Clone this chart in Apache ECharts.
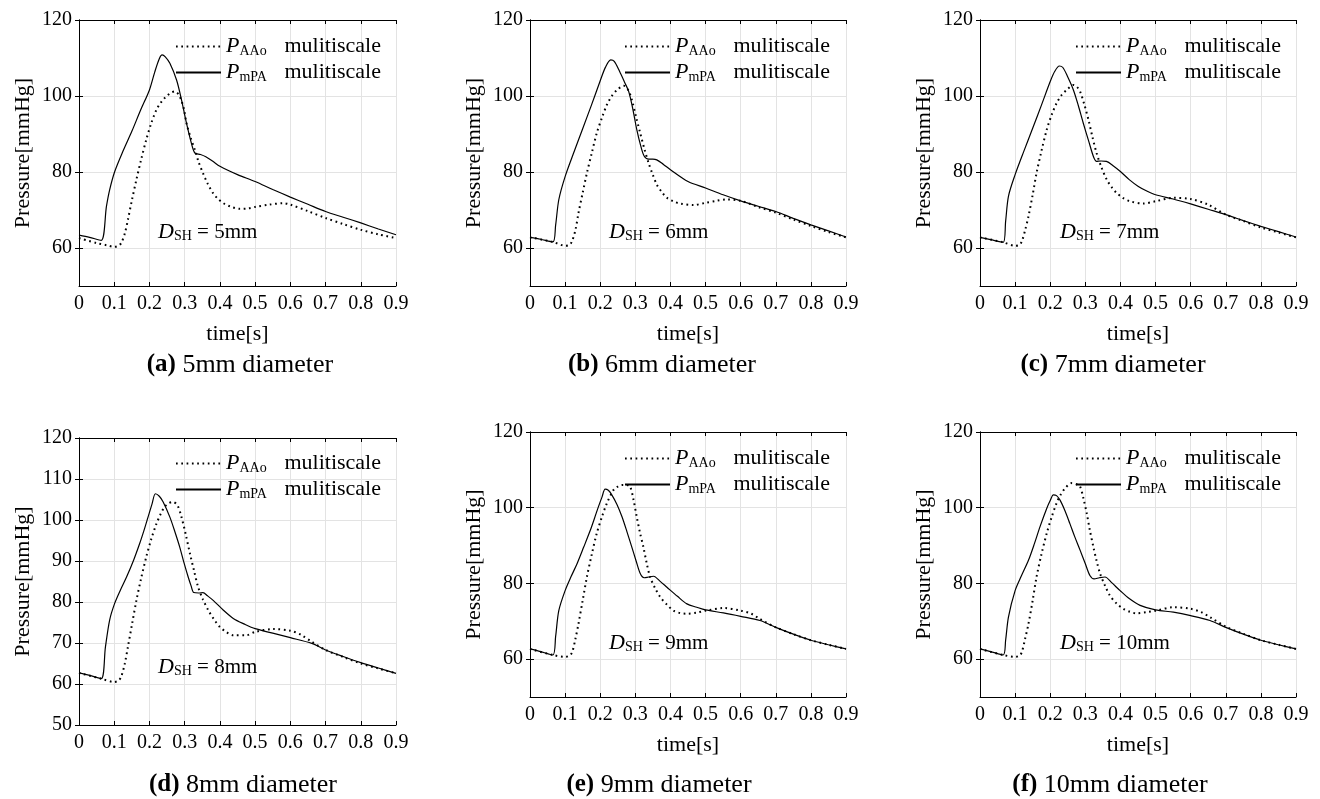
<!DOCTYPE html>
<html><head><meta charset="utf-8">
<script src="https://cdn.jsdelivr.net/npm/echarts@6/dist/echarts.min.js"></script>
<style>html,body{margin:0;padding:0;background:#fff}#c{width:1320px;height:799px}</style>
</head><body><div id="c"></div><script>
// ---------- data: [time s, pressure mmHg] ----------
const mpa5 = [[0,63.4],[0.03,62.8],[0.063,62.0],[0.078,71],[0.087,75.3],[0.101,80],[0.125,85.5],[0.15,90.7],[0.175,96.3],[0.2,101.6],[0.215,106.3],[0.228,109.8],[0.236,110.8],[0.245,110.3],[0.258,108.6],[0.277,104.2],[0.291,99],[0.305,92.9],[0.319,87.6],[0.329,85.0],[0.345,84.6],[0.36,84.0],[0.38,82.8],[0.4,81.5],[0.45,79.3],[0.5,77.5],[0.55,75.4],[0.6,73.4],[0.65,71.5],[0.7,69.6],[0.75,68.1],[0.8,66.6],[0.85,65.0],[0.9,63.5]];
const aao5 = [[0,62.6],[0.05,61.3],[0.08,60.7],[0.1,60.3],[0.112,60.6],[0.12,61.3],[0.13,63.8],[0.139,67.5],[0.15,72.5],[0.163,78],[0.177,83.5],[0.191,88.5],[0.205,92.8],[0.22,96.4],[0.235,98.6],[0.248,99.9],[0.262,100.9],[0.272,101.2],[0.282,100.5],[0.29,99],[0.298,96.5],[0.305,92.9],[0.317,89],[0.329,85.8],[0.34,82.5],[0.352,79.7],[0.365,77],[0.38,74.5],[0.395,72.9],[0.41,71.8],[0.43,70.9],[0.457,70.3],[0.48,70.4],[0.5,70.8],[0.54,71.4],[0.58,71.8],[0.6,71.4],[0.65,69.7],[0.7,67.9],[0.75,66.3],[0.8,64.8],[0.85,63.6],[0.9,62.6]];
const mpa6 = [[0,62.8],[0.03,62.3],[0.065,61.6],[0.073,66],[0.082,72.7],[0.1,78.8],[0.125,85.2],[0.15,91.4],[0.175,97.6],[0.2,104],[0.215,107.6],[0.23,109.5],[0.24,109.1],[0.255,106.5],[0.27,103.5],[0.281,101.2],[0.293,96.5],[0.304,91.2],[0.315,87],[0.325,84.2],[0.338,83.4],[0.35,83.4],[0.361,83.2],[0.38,82],[0.4,80.6],[0.45,77.5],[0.5,75.8],[0.55,74],[0.6,72.4],[0.65,71],[0.7,69.6],[0.75,67.8],[0.8,66.1],[0.85,64.5],[0.9,62.9]];
const aao6 = [[0,62.8],[0.065,61.6],[0.1,60.6],[0.112,60.8],[0.12,61.8],[0.13,65],[0.138,69.2],[0.15,74.5],[0.162,79.7],[0.176,85],[0.19,90.2],[0.205,94.3],[0.219,97.7],[0.233,100],[0.248,101.6],[0.267,102.7],[0.28,101.5],[0.29,99],[0.302,94.5],[0.314,90.2],[0.326,86],[0.338,82.3],[0.35,79.2],[0.361,76.7],[0.375,74.8],[0.39,73.2],[0.41,72.2],[0.428,71.7],[0.466,71.3],[0.5,71.9],[0.53,72.4],[0.56,72.8],[0.6,72.4],[0.65,70.8],[0.7,69.3],[0.75,67.5],[0.8,65.8],[0.85,64.2],[0.9,62.8]];
const mpa7 = [[0,62.8],[0.03,62.2],[0.066,61.5],[0.073,67],[0.081,73.6],[0.1,79.3],[0.125,85.5],[0.15,91.5],[0.175,97.6],[0.2,103.8],[0.213,106.5],[0.226,107.9],[0.236,107.5],[0.25,105],[0.266,101.6],[0.28,97.5],[0.294,92.9],[0.31,88],[0.323,84.1],[0.332,82.8],[0.345,82.9],[0.36,82.8],[0.38,81.6],[0.399,80.2],[0.425,78],[0.451,76.2],[0.475,75],[0.5,74],[0.55,72.9],[0.6,71.6],[0.65,70.2],[0.7,68.8],[0.75,67.2],[0.8,65.7],[0.85,64.3],[0.9,62.9]];
const aao7 = [[0,62.8],[0.066,61.5],[0.1,60.6],[0.112,60.8],[0.119,61.7],[0.128,64.5],[0.138,68.3],[0.15,74],[0.161,79.7],[0.175,85.5],[0.19,91.1],[0.204,95],[0.218,98.1],[0.232,100.2],[0.247,101.6],[0.266,102.9],[0.276,102.4],[0.285,101.2],[0.297,97.8],[0.309,93.7],[0.32,89.3],[0.332,85],[0.346,81.2],[0.361,78],[0.375,76],[0.389,74.5],[0.408,73.1],[0.427,72.3],[0.465,71.7],[0.5,72.3],[0.55,73.2],[0.6,72.9],[0.65,71.4],[0.7,68.8],[0.75,67.1],[0.8,65.4],[0.85,64.1],[0.9,62.8]];
const mpa8 = [[0,62.7],[0.03,62.1],[0.063,61.3],[0.075,69],[0.087,75.6],[0.101,79.6],[0.118,83],[0.135,86.1],[0.155,90.2],[0.172,94.2],[0.185,97.6],[0.196,100.7],[0.207,103.8],[0.217,106.4],[0.228,105.8],[0.239,104.4],[0.258,100.7],[0.272,97.2],[0.286,93.4],[0.298,89.6],[0.31,86.1],[0.318,84],[0.326,82.3],[0.34,82.2],[0.352,82.3],[0.365,81.5],[0.381,80.4],[0.41,78],[0.438,76],[0.47,74.6],[0.5,73.5],[0.55,72.4],[0.6,71.3],[0.661,69.9],[0.7,68.3],[0.75,66.7],[0.8,65.2],[0.85,63.9],[0.9,62.6]];
const aao8 = [[0,62.7],[0.063,61.3],[0.1,60.5],[0.112,60.8],[0.12,61.8],[0.13,65],[0.139,69.1],[0.151,74.8],[0.163,80.4],[0.177,86],[0.191,91],[0.205,95.3],[0.22,99.1],[0.232,101.5],[0.243,103.2],[0.255,104.1],[0.267,104.4],[0.28,103.5],[0.291,100.7],[0.303,96.5],[0.315,91.8],[0.327,87.5],[0.338,83.7],[0.352,80.6],[0.367,78],[0.383,75.8],[0.4,73.9],[0.418,72.7],[0.438,71.9],[0.476,71.9],[0.5,72.7],[0.551,73.4],[0.6,73],[0.63,72],[0.661,70.3],[0.7,68.3],[0.75,66.6],[0.8,65],[0.85,63.8],[0.9,62.6]];
const mpa9 = [[0,62.7],[0.03,62],[0.065,61.1],[0.073,66],[0.082,72.8],[0.1,78.1],[0.117,81.8],[0.134,85.2],[0.153,89.6],[0.172,94.1],[0.184,97.3],[0.195,100.3],[0.205,102.8],[0.214,104.9],[0.223,104.6],[0.233,103.4],[0.248,100.8],[0.262,97.6],[0.276,93.7],[0.29,89.6],[0.302,86],[0.314,82.6],[0.325,81.5],[0.338,81.7],[0.352,81.9],[0.37,80.6],[0.39,79],[0.42,76.6],[0.447,74.6],[0.475,73.7],[0.5,73],[0.551,72.2],[0.6,71.3],[0.655,70.2],[0.7,68.4],[0.75,66.6],[0.8,65],[0.85,63.8],[0.9,62.7]];
const aao9 = [[0,62.7],[0.065,61.1],[0.1,60.6],[0.112,60.9],[0.12,61.8],[0.129,65.2],[0.138,69.3],[0.15,75.5],[0.162,81.7],[0.176,87.7],[0.19,93.2],[0.205,97.6],[0.219,101.2],[0.238,104.7],[0.25,105.6],[0.262,106],[0.274,106],[0.285,105.6],[0.295,102],[0.304,97.6],[0.313,93.5],[0.323,89.6],[0.332,85.5],[0.342,81.7],[0.356,78.8],[0.371,76.4],[0.39,74.4],[0.409,72.8],[0.427,72.2],[0.447,72],[0.475,72.3],[0.5,72.8],[0.551,73.5],[0.6,72.8],[0.63,72],[0.655,70.6],[0.7,68.4],[0.75,66.6],[0.8,65],[0.85,63.8],[0.9,62.7]];
const mpa10 = [[0,62.7],[0.03,62],[0.066,61.1],[0.073,65],[0.081,71.1],[0.1,78.1],[0.118,82],[0.138,86.1],[0.155,90.5],[0.171,95],[0.19,99.8],[0.2,101.9],[0.209,103.4],[0.218,103.2],[0.228,102],[0.242,99.2],[0.256,95.8],[0.27,92.3],[0.285,88.8],[0.3,85.2],[0.313,82.1],[0.325,81.2],[0.34,81.5],[0.356,81.7],[0.375,80.2],[0.399,78.1],[0.425,76],[0.456,74.2],[0.5,73],[0.551,72.4],[0.6,71.5],[0.655,70.2],[0.7,68.4],[0.75,66.6],[0.8,65],[0.85,63.8],[0.9,62.7]];
const aao10 = [[0,62.7],[0.066,61.1],[0.1,60.6],[0.112,60.9],[0.119,61.8],[0.128,65.2],[0.138,69.3],[0.15,75.5],[0.161,81.7],[0.175,87.7],[0.19,93.2],[0.204,97.5],[0.218,101.2],[0.23,103.5],[0.242,105.1],[0.261,106.5],[0.275,106.2],[0.285,105.6],[0.295,102.3],[0.304,98.5],[0.313,94],[0.323,89.6],[0.332,86],[0.342,82.6],[0.356,79.4],[0.37,76.8],[0.39,74.6],[0.408,73.3],[0.427,72.5],[0.446,72.1],[0.475,72.4],[0.5,72.8],[0.551,73.7],[0.6,73.3],[0.63,72.4],[0.655,71.1],[0.7,68.6],[0.75,66.7],[0.8,65],[0.85,63.8],[0.9,62.7]];

const letters = ['(a)','(b)','(c)','(d)','(e)','(f)'];
const diameters = ['5mm','6mm','7mm','8mm','9mm','10mm'];
const captionText = ['5mm diameter','6mm diameter','7mm diameter','8mm diameter','9mm diameter','10mm diameter'];
const yTicksSparse = [60, 80, 100, 120];
const yTicksDense = [50, 60, 70, 80, 90, 100, 110, 120];
const mpaSets = [mpa5, mpa6, mpa7, mpa8, mpa9, mpa10];
const aaoSets = [aao5, aao6, aao7, aao8, aao9, aao10];
const legendSub = ['AAo', 'mPA'];
const legendWord = 'mulitiscale';
const yName = 'Pressure[mmHg]';
const xName = 'time[s]';

// ---------- layout (pixels) ----------
const panels = [
  {l:79,  t:20,  w:317, h:266, dense:false, xname:true,  legL:175,  legT:35,  annX:158,  annY:232, capX:240,  capY:365},
  {l:530, t:20,  w:316, h:266, dense:false, xname:true,  legL:624,  legT:35,  annX:609,  annY:232, capX:662,  capY:365},
  {l:980, t:20,  w:316, h:266, dense:false, xname:true,  legL:1075, legT:35,  annX:1060, annY:232, capX:1113, capY:365},
  {l:79,  t:438, w:317, h:287, dense:true,  xname:false, legL:175,  legT:452, annX:158,  annY:667, capX:243,  capY:785},
  {l:530, t:432, w:316, h:265, dense:false, xname:true,  legL:624,  legT:447, annX:609,  annY:643, capX:659,  capY:785},
  {l:980, t:432, w:316, h:265, dense:false, xname:true,  legL:1075, legT:447, annX:1060, annY:643, capX:1110, capY:785}
];

const FONT = 'Liberation Serif';
const GRID_C = '#e3e3e3';

const grid = [], xAxis = [], yAxis = [], series = [], legend = [], graphic = [];

panels.forEach((p, i) => {
  grid.push({left: p.l, top: p.t, width: p.w, height: p.h, containLabel: false});
  const ticks = p.dense ? yTicksDense : yTicksSparse;
  xAxis.push({
    type: 'value', gridIndex: i, min: 0, max: 0.9, interval: 0.1, position: 'bottom',
    name: p.xname ? xName : '', nameLocation: 'middle', nameGap: 37,
    nameTextStyle: {fontFamily: FONT, fontSize: 22, color: '#000'},
    axisLine: {show: true, lineStyle: {color: '#000', width: 1}},
    axisTick: {show: true, inside: true, length: 4, lineStyle: {color: '#000'}},
    axisLabel: {fontFamily: FONT, fontSize: 20, color: '#000', margin: 8,
      formatter: v => (Math.abs(v) < 1e-9 ? '0' : v.toFixed(1))},
    splitLine: {show: true, lineStyle: {color: GRID_C, width: 1}}
  });
  xAxis.push({
    type: 'value', gridIndex: i, min: 0, max: 0.9, interval: 0.1, position: 'top',
    axisLine: {show: true, lineStyle: {color: '#000', width: 1}},
    axisTick: {show: true, inside: true, length: 4, lineStyle: {color: '#000'}},
    axisLabel: {show: false}, splitLine: {show: false}
  });
  yAxis.push({
    type: 'value', gridIndex: i, min: 50, max: 120, position: 'left',
    name: yName, nameLocation: 'middle', nameGap: 45,
    nameTextStyle: {fontFamily: FONT, fontSize: 22, color: '#000'},
    axisLine: {show: true, lineStyle: {color: '#000', width: 1}},
    axisTick: {show: true, inside: true, length: 4, lineStyle: {color: '#000'}, customValues: ticks},
    axisLabel: {fontFamily: FONT, fontSize: 20, color: '#000', margin: 7, customValues: ticks},
    splitLine: {show: true, lineStyle: {color: GRID_C, width: 1}}
  });
  yAxis.push({
    type: 'value', gridIndex: i, min: 50, max: 120, position: 'right',
    axisLine: {show: true, lineStyle: {color: '#000', width: 1}},
    axisTick: {show: true, inside: true, length: 4, lineStyle: {color: '#000'}, customValues: ticks},
    axisLabel: {show: false}, splitLine: {show: false}
  });
  const nA = 'AAo_' + i, nM = 'mPA_' + i;
  series.push({
    name: nA, type: 'line', xAxisIndex: 2 * i, yAxisIndex: 2 * i, data: aaoSets[i],
    symbol: 'none', smooth: 0.3, animation: false,
    itemStyle: {color: '#000'},
    lineStyle: {color: '#000', width: 2, type: [1.7, 3.6]}, z: 3
  });
  series.push({
    name: nM, type: 'line', xAxisIndex: 2 * i, yAxisIndex: 2 * i, data: mpaSets[i],
    symbol: 'none', smooth: 0.3, animation: false,
    itemStyle: {color: '#000'},
    lineStyle: {color: '#000', width: 1.2, type: 'solid'}, z: 4
  });
  legend.push({
    data: [nA, nM], orient: 'vertical', left: p.legL, top: p.legT, padding: 0,
    itemWidth: 45, itemHeight: 10, itemGap: 3, selectedMode: false,
    itemStyle: {opacity: 0, borderWidth: 0},
    formatter: name => '{p|P}{s|' + (name.startsWith('AAo') ? legendSub[0] : legendSub[1]) + '}{t|' + legendWord + '}',
    textStyle: {
      fontFamily: FONT, fontSize: 22, color: '#000',
      rich: {
        p: {fontFamily: FONT, fontStyle: 'italic', fontSize: 22, color: '#000', lineHeight: 25},
        s: {fontFamily: FONT, fontSize: 14, color: '#000', width: 45, padding: [9, 0, 0, 0], lineHeight: 25},
        t: {fontFamily: FONT, fontSize: 22, color: '#000', lineHeight: 25}
      }
    }
  });
  graphic.push({
    type: 'text', x: p.annX, y: p.annY, z: 100,
    style: {
      text: '{d|D}{s|SH}{t| = ' + diameters[i] + '}', align: 'left', verticalAlign: 'middle',
      rich: {
        d: {fontFamily: FONT, fontStyle: 'italic', fontSize: 22, fill: '#000', lineHeight: 26},
        s: {fontFamily: FONT, fontSize: 14, fill: '#000', padding: [9, 0, 0, 0], lineHeight: 26},
        t: {fontFamily: FONT, fontSize: 21, fill: '#000', lineHeight: 26}
      }
    }
  });
  graphic.push({
    type: 'text', x: p.capX, y: p.capY, z: 100,
    style: {
      text: '{b|' + letters[i] + '}{r| ' + captionText[i] + '}', align: 'center', verticalAlign: 'middle',
      rich: {
        b: {fontFamily: FONT, fontWeight: 'bold', fontSize: 25, fill: '#000'},
        r: {fontFamily: FONT, fontSize: 26, fill: '#000'}
      }
    }
  });
});

const chart = echarts.init(document.getElementById('c'), null, {renderer: 'canvas'});
chart.setOption({
  animation: false, backgroundColor: '#fff',
  grid, xAxis, yAxis, series, legend, graphic
});
</script></body></html>
